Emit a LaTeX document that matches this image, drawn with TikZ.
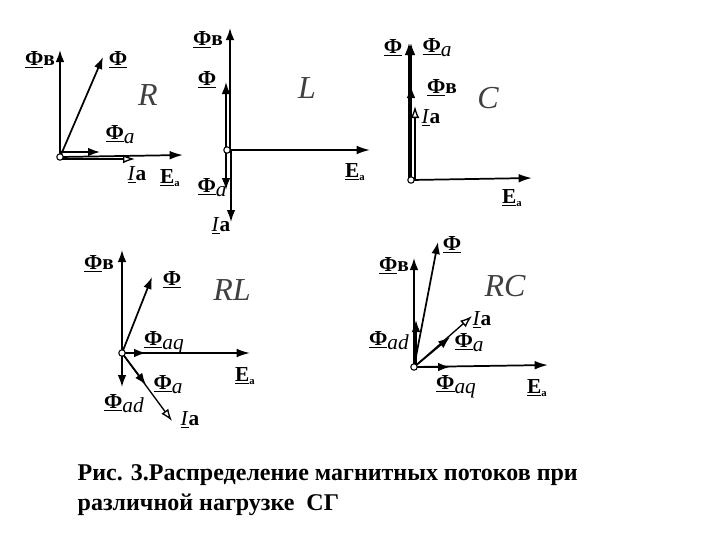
\documentclass[tikz,border=0pt]{standalone}
\usepackage{fontspec}
\setmainfont{Liberation Serif}
\usetikzlibrary{arrows.meta}
\begin{document}
\begin{tikzpicture}[x=0.75pt,y=-0.75pt,
  vec/.style={line width=1.3pt,-{Latex[length=9pt,width=6.5pt]}},
  ovec/.style={line width=1pt,-{Latex[open,length=9pt,width=6.5pt]}},
  ax/.style={line width=1.3pt,-{Latex[length=10pt,width=6.5pt]}},
  orig/.style={circle,draw,fill=white,inner sep=1.7pt,line width=0.8pt},
  lbl/.style={font=\fontsize{16}{16}\selectfont},
  big/.style={font=\fontsize{24}{24}\selectfont\itshape\color{black!75}}]
\useasboundingbox (0,0) rectangle (720,540);
\newcommand{\Ph}{\underline{\textbf{Ф}}}
\newcommand{\Fv}{\underline{\textbf{Ф}}\textbf{в}}
\newcommand{\Fa}[1]{\underline{\textbf{Ф}}\raisebox{-3pt}{\textit{#1}}}
\newcommand{\Ia}{\underline{\textit{I}}\textbf{a}}
\newcommand{\Ea}{\underline{\textbf{E}}\raisebox{-2pt}{\footnotesize\textbf{a}}}
% R
\coordinate (r0) at (60,157);
\draw[ax] (r0) -- (183,155);
\draw[vec] (r0) -- (60,50);
\draw[vec] (r0) -- (103,57);
\draw[vec] (60,152) -- (100,152);
\draw[ovec] (60,159) -- (135,159);
\node[orig] (ro) at (r0) {};
\node[lbl] (rFv) at (40,60) {\Fv};
\node[lbl] (rF) at (118,60) {\Ph};
\node[big] (rR) at (148,95) {R};
\node[lbl] (rFa) at (120,135) {\Fa{a}};
\node[lbl] (rIa) at (137,175) {\Ia};
\node[lbl] (rEa) at (170,178) {\Ea};
% L
\coordinate (l0) at (227,150);
\draw[ax] (l0) -- (370,150);
\draw[vec] (230,150) -- (230,28);
\draw[vec] (226,150) -- (226,82);
\draw[vec] (226,150) -- (226,190);
\draw[vec] (231,150) -- (231,222);
\node[orig] (lo) at (l0) {};
\node[lbl] (lFv) at (208,40) {\Fv};
\node[lbl] (lF) at (207,80) {\Ph};
\node[big] (lL) at (307,88) {L};
\node[lbl] (lFa) at (212,188) {\Fa{a}};
\node[lbl] (lIa) at (221,226) {\Ia};
\node[lbl] (lEa) at (355,172) {\Ea};
% C
\coordinate (c0) at (411,180);
\draw[ax] (c0) -- (532,178);
\draw[vec] (409,180) -- (409,43);
\draw[vec] (411,180) -- (411,43);
\draw[vec] (411,180) -- (411,86);
\draw[ovec] (415,180) -- (415,106);
\node[orig] (co) at (c0) {};
\node[lbl] (cF) at (393,48) {\Ph};
\node[lbl] (cFa) at (437,48) {\Fa{a}};
\node[lbl] (cFv) at (442,88) {\Fv};
\node[lbl] (cIa) at (431,118) {\Ia};
\node[big] (cC) at (488,98) {C};
\node[lbl] (cEa) at (512,198) {\Ea};
% RL
\coordinate (m0) at (122,353);
\draw[ax] (m0) -- (250,353);
\draw[vec] (m0) -- (122,250);
\draw[vec] (m0) -- (152,277);
\draw[vec] (m0) -- (146,353);
\draw[vec] (m0) -- (122,387);
\draw[vec] (m0) -- (146,385);
\draw[ovec] (m0) -- (172,421);
\node[orig] (mo) at (m0) {};
\node[lbl] (mFv) at (99,264) {\Fv};
\node[lbl] (mF) at (172,280) {\Ph};
\node[big] (mRL) at (232,290) {RL};
\node[lbl] (mFaq) at (164,343) {\Fa{aq}};
\node[lbl] (mEa) at (245,376) {\Ea};
\node[lbl] (mFad) at (124,404) {\Fa{ad}};
\node[lbl] (mFa) at (168,385) {\Fa{a}};
\node[lbl] (mIa) at (190,420) {\Ia};
% RC
\coordinate (n0) at (414,367);
\draw[ax] (n0) -- (548,365);
\draw[vec] (414,367) -- (414,258);
\draw[vec] (n0) -- (438,242);
\draw[vec] (416,367) -- (416,320);
\draw[vec] (n0) -- (450,337);
\draw[ovec] (n0) -- (472,316);
\draw[vec] (n0) -- (450,367);
\node[orig] (no) at (n0) {};
\node[lbl] (nFv) at (394,266) {\Fv};
\node[lbl] (nF) at (452,245) {\Ph};
\node[big] (nRC) at (505,286) {RC};
\node[lbl] (nIa) at (482,320) {\Ia};
\node[lbl] (nFad) at (389,341) {\Fa{ad}};
\node[lbl] (nFa) at (469,343) {\Fa{a}};
\node[lbl] (nFaq) at (456,387) {\Fa{aq}};
\node[lbl] (nEa) at (537,388) {\Ea};
% caption
\node[anchor=west,align=left,font=\fontsize{18}{23}\selectfont\bfseries] (cap) at (73,490)
 {Рис. 3.Распределение магнитных потоков при\\различной нагрузке \ СГ};
\end{tikzpicture}
\end{document}
